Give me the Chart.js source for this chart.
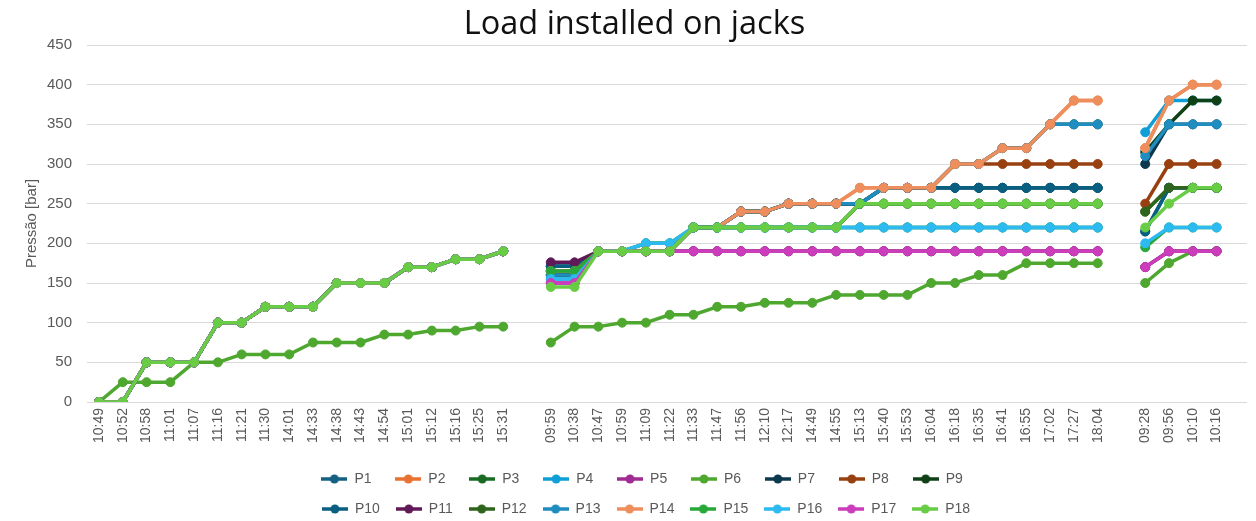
<!DOCTYPE html>
<html>
<head>
<meta charset="utf-8">
<title>Load installed on jacks</title>
<script src="https://cdn.jsdelivr.net/npm/chart.js@4"></script>
<style>
  html, body { margin: 0; padding: 0; background: #ffffff; }
  canvas { display: block; }
</style>
</head>
<body>
<canvas id="chart" width="1256" height="521"></canvas>
<script>
// Reading times, three days; the empty entries are the breaks between days
const timeLabels = [
    '10:49', '10:52', '10:58', '11:01', '11:07', '11:16', '11:21', '11:30', '14:01', '14:33',
    '14:38', '14:43', '14:54', '15:01', '15:12', '15:16', '15:25', '15:31', '',
    '09:59', '10:38', '10:47', '10:59', '11:09', '11:22', '11:33', '11:47', '11:56', '12:10',
    '12:17', '14:49', '14:55', '15:13', '15:40', '15:53', '16:04', '16:18', '16:35', '16:41',
    '16:55', '17:02', '17:27', '18:04', '',
    '09:28', '09:56', '10:10', '10:16'
];

const seriesNames = ['P1', 'P2', 'P3', 'P4', 'P5', 'P6', 'P7', 'P8', 'P9',
    'P10', 'P11', 'P12', 'P13', 'P14', 'P15', 'P16', 'P17', 'P18'];

const seriesColors = ['#156082', '#e97132', '#196b24', '#0f9ed5', '#a02b93', '#4ea72e',
    '#0d394e', '#994011', '#0f4016', '#095f80', '#601a58', '#2f641c',
    '#1f8dc0', '#ed8e5c', '#27a839', '#2cbaf0', '#cb3dbb', '#69cc45'];

const yTicks = [0, 50, 100, 150, 200, 250, 300, 350, 400, 450];

// Day 1: every jack except P6 shares the same readings
const day1Main = [0, 0, 50, 50, 50, 100, 100, 120, 120, 120, 150, 150, 150, 170, 170, 180, 180, 190];
const day1P6 = [0, 25, 25, 25, 50, 50, 60, 60, 60, 75, 75, 75, 85, 85, 90, 90, 95, 95];

// Pressure [bar] per jack
const p1 = [...day1Main, null,
    171, 171, 190, 190, 190, 190, 220, 220, 240, 240, 250, 250, 250, 250, 270, 270, 270, 270, 270, 270, 270, 270, 270, 270, null,
    215, 270, 270, 270];
const p2 = [...day1Main, null,
    165, 165, 190, 190, 190, 190, 220, 220, 240, 240, 250, 250, 250, 270, 270, 270, 270, 300, 300, 320, 320, 350, 380, 380, null,
    320, 380, 400, 400];
const p3 = [...day1Main, null,
    165, 165, 190, 190, 190, 190, 220, 220, 220, 220, 220, 220, 220, 250, 250, 250, 250, 250, 250, 250, 250, 250, 250, 250, null,
    240, 270, 270, 270];
const p4 = [...day1Main, null,
    155, 155, 190, 190, 200, 200, 220, 220, 220, 220, 220, 220, 220, 220, 220, 220, 220, 220, 220, 220, 220, 220, 220, 220, null,
    340, 380, 380, 380];
const p5 = [...day1Main, null,
    150, 150, 190, 190, 190, 190, 190, 190, 190, 190, 190, 190, 190, 190, 190, 190, 190, 190, 190, 190, 190, 190, 190, 190, null,
    170, 190, 190, 190];
const p6 = [...day1P6, null,
    75, 95, 95, 100, 100, 110, 110, 120, 120, 125, 125, 125, 135, 135, 135, 135, 150, 150, 160, 160, 175, 175, 175, 175, null,
    150, 175, 190, 190];
const p7 = [...day1Main, null,
    171, 171, 190, 190, 190, 190, 220, 220, 240, 240, 250, 250, 250, 250, 270, 270, 270, 270, 270, 270, 270, 270, 270, 270, null,
    300, 350, 350, 350];
const p8 = [...day1Main, null,
    160, 160, 190, 190, 190, 190, 220, 220, 240, 240, 250, 250, 250, 250, 270, 270, 270, 300, 300, 300, 300, 300, 300, 300, null,
    250, 300, 300, 300];
const p9 = [...day1Main, null,
    160, 160, 190, 190, 190, 190, 220, 220, 240, 240, 250, 250, 250, 250, 270, 270, 270, 300, 300, 320, 320, 350, 350, 350, null,
    315, 350, 380, 380];
const p10 = [...day1Main, null,
    171, 171, 190, 190, 190, 190, 220, 220, 240, 240, 250, 250, 250, 250, 270, 270, 270, 270, 270, 270, 270, 270, 270, 270, null,
    215, 270, 270, 270];
const p11 = [...day1Main, null,
    176, 176, 190, 190, 190, 190, 190, 190, 190, 190, 190, 190, 190, 190, 190, 190, 190, 190, 190, 190, 190, 190, 190, 190, null,
    170, 190, 190, 190];
const p12 = [...day1Main, null,
    165, 165, 190, 190, 190, 190, 220, 220, 220, 220, 220, 220, 220, 250, 250, 250, 250, 250, 250, 250, 250, 250, 250, 250, null,
    240, 270, 270, 270];
const p13 = [...day1Main, null,
    160, 160, 190, 190, 190, 190, 220, 220, 240, 240, 250, 250, 250, 250, 270, 270, 270, 300, 300, 320, 320, 350, 350, 350, null,
    310, 350, 350, 350];
const p14 = [...day1Main, null,
    165, 165, 190, 190, 190, 190, 220, 220, 240, 240, 250, 250, 250, 270, 270, 270, 270, 300, 300, 320, 320, 350, 380, 380, null,
    320, 380, 400, 400];
const p15 = [...day1Main, null,
    165, 165, 190, 190, 200, 200, 220, 220, 220, 220, 220, 220, 220, 220, 220, 220, 220, 220, 220, 220, 220, 220, 220, 220, null,
    195, 220, 220, 220];
const p16 = [...day1Main, null,
    155, 155, 190, 190, 200, 200, 220, 220, 220, 220, 220, 220, 220, 220, 220, 220, 220, 220, 220, 220, 220, 220, 220, 220, null,
    200, 220, 220, 220];
const p17 = [...day1Main, null,
    150, 150, 190, 190, 190, 190, 190, 190, 190, 190, 190, 190, 190, 190, 190, 190, 190, 190, 190, 190, 190, 190, 190, 190, null,
    170, 190, 190, 190];
const p18 = [...day1Main, null,
    145, 145, 190, 190, 190, 190, 220, 220, 220, 220, 220, 220, 220, 250, 250, 250, 250, 250, 250, 250, 250, 250, 250, 250, null,
    220, 250, 270, 270];

const seriesValues = [p1, p2, p3, p4, p5, p6, p7, p8, p9, p10, p11, p12, p13, p14, p15, p16, p17, p18];

Chart.defaults.font.family = '"Liberation Sans", Arial, sans-serif';
Chart.defaults.color = '#595959';

// Small line + marker symbol for the legend, like the spreadsheet legend
function legendIcon(color) {
    const c = document.createElement('canvas');
    c.width = 26;
    c.height = 10;
    const g = c.getContext('2d');
    g.strokeStyle = color;
    g.lineWidth = 3.5;
    g.beginPath();
    g.moveTo(0, 5);
    g.lineTo(26, 5);
    g.stroke();
    g.fillStyle = color;
    g.beginPath();
    g.arc(13, 5, 4.5, 0, Math.PI * 2);
    g.fill();
    return c;
}
const icons = seriesColors.map(legendIcon);

// Keep nine legend entries on each row, centred a little right of the page middle
const legendWidth = 700;
const legendCentre = 646;
const legendRows = {
    id: 'legendRows',
    afterLayout(chart) {
        const legend = chart.legend;
        if (!legend) return;
        legend.maxWidth = legendWidth;
        legend.fit();
        legend.left = Math.round(legendCentre - legend.width / 2);
        legend.right = legend.left + legend.width;
    }
};

const datasets = seriesNames.map((name, i) => ({
    label: name,
    data: seriesValues[i].map((v, j) => ({ x: j, y: v })),
    borderColor: seriesColors[i],
    backgroundColor: seriesColors[i],
    pointBackgroundColor: seriesColors[i],
    pointBorderColor: seriesColors[i],
    borderWidth: 3.5,
    pointRadius: 4.5,
    pointBorderWidth: 1,
    borderJoinStyle: 'round',
    borderCapStyle: 'round',
    tension: 0,
    spanGaps: false,
    // later jacks are drawn on top, as in the source chart
    order: seriesNames.length - i
}));

new Chart(document.getElementById('chart'), {
    type: 'line',
    data: { datasets: datasets },
    options: {
        responsive: false,
        animation: false,
        layout: { padding: { left: 22, right: 9, top: 0, bottom: -5 } },
        scales: {
            x: {
                type: 'linear',
                min: -0.505,
                max: 48.28,
                grid: { display: false, drawTicks: false },
                border: { display: false },
                afterBuildTicks: axis => {
                    axis.ticks = timeLabels.map((t, i) => ({ value: i }));
                },
                afterFit: scale => { scale.height = 54; },
                ticks: {
                    autoSkip: false,
                    minRotation: 90,
                    maxRotation: 90,
                    padding: 6,
                    color: '#595959',
                    font: { size: 14 },
                    callback: value => timeLabels[value]
                }
            },
            y: {
                min: 0,
                max: 450,
                afterBuildTicks: axis => {
                    axis.ticks = yTicks.map(v => ({ value: v }));
                },
                afterFit: scale => { scale.width = 65; },
                grid: { color: '#d9d9d9', lineWidth: 1, drawTicks: false },
                border: { display: false },
                ticks: { padding: 15, color: '#595959', font: { size: 15 } },
                title: {
                    display: true,
                    text: 'Pressão [bar]',
                    color: '#595959',
                    font: { size: 15 },
                    padding: { top: 1, bottom: 0 }
                }
            }
        },
        plugins: {
            title: {
                display: true,
                text: 'Load installed on jacks',
                color: '#111111',
                font: { family: '"Open Sans", sans-serif', size: 32.5, weight: 'normal' },
                padding: { top: 5, bottom: 1 }
            },
            legend: {
                position: 'bottom',
                labels: {
                    usePointStyle: true,
                    pointStyleWidth: 26,
                    color: '#595959',
                    font: { size: 14 },
                    padding: 16,
                    sort: (a, b) => a.datasetIndex - b.datasetIndex,
                    generateLabels: chart => {
                        const items = Chart.defaults.plugins.legend.labels.generateLabels(chart);
                        items.forEach(item => {
                            item.pointStyle = icons[item.datasetIndex];
                            // short names padded so every column has the same width
                            if (item.text.length < 3) item.text = item.text + '  ';
                        });
                        return items;
                    }
                }
            },
            tooltip: { enabled: false }
        }
    },
    plugins: [legendRows]
});
</script>
</body>
</html>
